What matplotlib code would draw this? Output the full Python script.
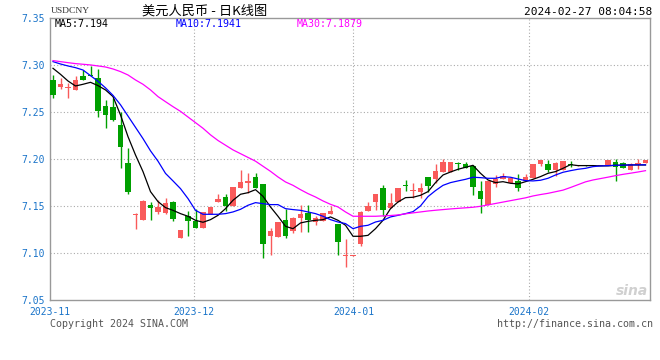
import numpy as np
import matplotlib
matplotlib.use('Agg')
import matplotlib.pyplot as plt

# daily candles USD/CNY, 2023-11 .. 2024-02-27
opens = [7.2844, 7.2766, 7.2759, 7.2741, 7.2887, 7.2894, 7.2865, 7.2567, 7.2560, 7.2365,
         7.1965, 7.1408, 7.1358, 7.1514, 7.1436, 7.1425, 7.1543, 7.1163, 7.1394, 7.1344,
         7.1270, 7.1415, 7.1547, 7.1596, 7.1507, 7.1691, 7.1752, 7.1809, 7.1734, 7.1181,
         7.1174, 7.1351, 7.1234, 7.1372, 7.1426, 7.1337, 7.1348, 7.1418, 7.1312, 7.0975,
         7.0975, 7.1096, 7.1447, 7.1550, 7.1691, 7.1482, 7.1550, 7.1723, 7.1667, 7.1649,
         7.1812, 7.1791, 7.1869, 7.1869, 7.1954, 7.1950, 7.1929, 7.1667, 7.1511, 7.1738,
         7.1794, 7.1745, 7.1766, 7.1766, 7.1805, 7.1950, 7.1950, 7.1883, 7.1890, 7.1950,
         7.1934, 7.1940, 7.1929, 7.1928, 7.1936, 7.1968, 7.1957, 7.1887, 7.1940, 7.1965]
highs = [7.2897, 7.2862, 7.2812, 7.2887, 7.2950, 7.2993, 7.2961, 7.2631, 7.2649, 7.2500,
         7.2121, 7.1429, 7.1567, 7.1550, 7.1571, 7.1589, 7.1557, 7.1252, 7.1450, 7.1468,
         7.1440, 7.1493, 7.1631, 7.1631, 7.1702, 7.1883, 7.1855, 7.1858, 7.1734, 7.1270,
         7.1333, 7.1475, 7.1385, 7.1511, 7.1511, 7.1401, 7.1426, 7.1500, 7.1312, 7.1149,
         7.0980, 7.1450, 7.1543, 7.1631, 7.1723, 7.1638, 7.1691, 7.1777, 7.1752, 7.1752,
         7.1812, 7.1950, 7.2000, 7.1972, 7.1975, 7.1972, 7.1936, 7.1766, 7.1766, 7.1833,
         7.1851, 7.1801, 7.1844, 7.1840, 7.1950, 7.1993, 7.1993, 7.1968, 7.1979, 7.1979,
         7.1938, 7.1942, 7.1931, 7.1930, 7.1993, 7.2004, 7.1975, 7.1957, 7.2004, 7.1993]
lows = [7.2656, 7.2752, 7.2656, 7.2741, 7.2848, 7.2890, 7.2454, 7.2337, 7.2411, 7.1911,
        7.1635, 7.1262, 7.1358, 7.1358, 7.1415, 7.1415, 7.1340, 7.1163, 7.1181, 7.1270,
        7.1270, 7.1415, 7.1547, 7.1450, 7.1507, 7.1691, 7.1645, 7.1695, 7.0950, 7.0979,
        7.1174, 7.1163, 7.1220, 7.1230, 7.1227, 7.1305, 7.1348, 7.1418, 7.0986, 7.0850,
        7.0970, 7.1075, 7.1447, 7.1461, 7.1397, 7.1482, 7.1550, 7.1667, 7.1585, 7.1585,
        7.1656, 7.1745, 7.1869, 7.1869, 7.1887, 7.1911, 7.1621, 7.1433, 7.1511, 7.1709,
        7.1794, 7.1745, 7.1667, 7.1766, 7.1805, 7.1933, 7.1869, 7.1826, 7.1890, 7.1915,
        7.1934, 7.1933, 7.1927, 7.1926, 7.1936, 7.1770, 7.1911, 7.1887, 7.1901, 7.1957]
closes = [7.2688, 7.2801, 7.2760, 7.2844, 7.2848, 7.2890, 7.2518, 7.2475, 7.2422, 7.2135,
          7.1656, 7.1410, 7.1560, 7.1486, 7.1496, 7.1539, 7.1362, 7.1252, 7.1344, 7.1270,
          7.1440, 7.1493, 7.1575, 7.1500, 7.1702, 7.1755, 7.1770, 7.1695, 7.1099, 7.1234,
          7.1333, 7.1188, 7.1379, 7.1418, 7.1351, 7.1376, 7.1426, 7.1450, 7.1121, 7.0976,
          7.0975, 7.1436, 7.1500, 7.1631, 7.1457, 7.1532, 7.1691, 7.1716, 7.1669, 7.1691,
          7.1720, 7.1876, 7.1972, 7.1972, 7.1947, 7.1911, 7.1709, 7.1582, 7.1766, 7.1787,
          7.1823, 7.1801, 7.1699, 7.1812, 7.1950, 7.1993, 7.1890, 7.1961, 7.1979, 7.1936,
          7.1937, 7.1933, 7.1930, 7.1929, 7.1993, 7.1918, 7.1911, 7.1950, 7.1961, 7.1993]

ma5 = [7.2968, 7.2904, 7.2833, 7.2780, 7.2798, 7.2819, 7.2784, 7.2738, 7.2667, 7.2472,
       7.2241, 7.2046, 7.1869, 7.1656, 7.1550, 7.1486, 7.1457, 7.1422, 7.1394, 7.1351,
       7.1330, 7.1358, 7.1404, 7.1475, 7.1564, 7.1628, 7.1645, 7.1677, 7.1606, 7.1493,
       7.1394, 7.1287, 7.1262, 7.1323, 7.1340, 7.1351, 7.1358, 7.1387, 7.1351, 7.1298,
       7.1181, 7.1181, 7.1191, 7.1262, 7.1351, 7.1475, 7.1546, 7.1592, 7.1596, 7.1617,
       7.1656, 7.1752, 7.1833, 7.1865, 7.1894, 7.1915, 7.1936, 7.1851, 7.1780, 7.1752,
       7.1762, 7.1745, 7.1738, 7.1762, 7.1787, 7.1816, 7.1851, 7.1869, 7.1904, 7.1943,
       7.1933, 7.1933, 7.1933, 7.1930, 7.1930, 7.1936, 7.1938, 7.1940, 7.1940, 7.1940]
ma10 = [7.3039, 7.3014, 7.2993, 7.2975, 7.2950, 7.2890, 7.2830, 7.2760, 7.2680, 7.2580,
        7.2460, 7.2340, 7.2220, 7.2090, 7.1980, 7.1850, 7.1770, 7.1688, 7.1582, 7.1457,
        7.1415, 7.1415, 7.1415, 7.1422, 7.1440, 7.1468, 7.1511, 7.1539, 7.1528, 7.1518,
        7.1518, 7.1475, 7.1465, 7.1457, 7.1440, 7.1422, 7.1394, 7.1358, 7.1333, 7.1316,
        7.1262, 7.1287, 7.1298, 7.1333, 7.1351, 7.1387, 7.1404, 7.1422, 7.1443, 7.1504,
        7.1603, 7.1667, 7.1723, 7.1752, 7.1770, 7.1787, 7.1809, 7.1805, 7.1798, 7.1798,
        7.1816, 7.1809, 7.1791, 7.1773, 7.1770, 7.1777, 7.1798, 7.1833, 7.1862, 7.1879,
        7.1894, 7.1904, 7.1922, 7.1929, 7.1933, 7.1936, 7.1938, 7.1940, 7.1941, 7.1941]
ma30 = [7.3050, 7.3039, 7.3028, 7.3018, 7.3011, 7.3004, 7.2993, 7.2982, 7.2961, 7.2933,
        7.2897, 7.2844, 7.2798, 7.2738, 7.2667, 7.2613, 7.2560, 7.2510, 7.2450, 7.2390,
        7.2330, 7.2260, 7.2200, 7.2150, 7.2100, 7.2060, 7.2020, 7.1980, 7.1926, 7.1872,
        7.1812, 7.1759, 7.1723, 7.1677, 7.1635, 7.1599, 7.1557, 7.1521, 7.1493, 7.1440,
        7.1394, 7.1394, 7.1394, 7.1394, 7.1398, 7.1402, 7.1408, 7.1420, 7.1430, 7.1440,
        7.1450, 7.1458, 7.1465, 7.1472, 7.1478, 7.1484, 7.1490, 7.1500, 7.1515, 7.1530,
        7.1545, 7.1560, 7.1575, 7.1590, 7.1610, 7.1625, 7.1638, 7.1655, 7.1672, 7.1700,
        7.1730, 7.1760, 7.1780, 7.1795, 7.1810, 7.1826, 7.1840, 7.1852, 7.1865, 7.1879]

month_labels = ['2023-11', '2023-12', '2024-01', '2024-02']
month_pos = [-0.4, 18.85, 40.05, 63.4]
price_ticks = [7.05, 7.10, 7.15, 7.20, 7.25, 7.30, 7.35]

UP = '#f95a5a'
DOWN = '#00a000'
BLUE_TXT = '#1a74c9'
MONO = 'DejaVu Sans Mono'

fig = plt.figure(figsize=(6.6, 3.6), dpi=100)
W, H = 660, 360
top_px, bot_px = 18.3, 300.3
ax = fig.add_axes([50 / W, 1 - bot_px / H, 600 / W, (bot_px - top_px) / H])

o = np.array(opens); c = np.array(closes)
hi = np.array(highs); lo = np.array(lows)
x = np.arange(len(o))
colors = [UP if cc >= oo else DOWN for oo, cc in zip(o, c)]

# wicks then bodies
ax.vlines(x, lo, hi, colors=colors, linewidth=1.0, zorder=3)
body_h = np.maximum(np.abs(c - o), 0.0009)
ax.bar(x, body_h, bottom=np.minimum(o, c), width=0.72, color=colors,
       linewidth=0, zorder=4)

# moving averages
ax.plot(x, ma5, color='black', linewidth=0.9, zorder=5)
ax.plot(x, ma10, color='#0000ff', linewidth=0.9, zorder=6)
ax.plot(x, ma30, color='#ff00ff', linewidth=0.9, zorder=7)

ax.set_xlim(-0.4, 79.6)
ax.set_ylim(7.05, 7.35)

# grid
for p in price_ticks[1:-1]:
    ax.axhline(p, color='#aaaaaa', linewidth=0.8, linestyle=(0, (1, 2)), zorder=1)
for mp in month_pos[1:]:
    ax.axvline(mp, color='#aaaaaa', linewidth=0.8, linestyle=(0, (1, 2)), zorder=1)

ax.set_yticks(price_ticks)
ax.set_yticklabels([f'{p:.2f}' for p in price_ticks], fontsize=7, family=MONO, color=BLUE_TXT)
ax.set_xticks(month_pos)
ax.set_xticklabels(month_labels, fontsize=7, family=MONO, color=BLUE_TXT)
ax.tick_params(length=0, pad=4)
ax.tick_params(axis='x', pad=5)
for s in ax.spines.values():
    s.set_color('#999999')
    s.set_linewidth(1)


def px(xp, yp):
    return xp / W, 1 - yp / H


# MA legend row
fig.text(*px(55, 24), 'MA5:7.194', fontsize=7.2, family=MONO, color='black', va='center')
fig.text(*px(176, 24), 'MA10:7.1941', fontsize=7.2, family=MONO, color='#0000ff', va='center')
fig.text(*px(297, 24), 'MA30:7.1879', fontsize=7.2, family=MONO, color='#ff00ff', va='center')

# header
fig.text(*px(51, 11), 'USDCNY', fontsize=6.8, family='Liberation Serif', color='#333333', va='center')
fig.text(*px(142, 11), '美元人民币 - 日K线图', fontsize=9.5,
         family=['Noto Sans CJK SC', 'DejaVu Sans'], color='black', va='center')
fig.text(*px(652, 12), '2024-02-27 08:04:58', fontsize=8, family=MONO, color='black',
         va='center', ha='right')

# footer
fig.text(*px(50, 324), 'Copyright 2024 SINA.COM', fontsize=7.2, family=MONO, color='#555555', va='center')
fig.text(*px(653, 324), 'http://finance.sina.com.cn', fontsize=7.2, family=MONO, color='#555555',
         va='center', ha='right')
fig.text(*px(648, 291), 'sina', fontsize=10, style='italic', weight='bold', color='#d0d0d0',
         va='center', ha='right')

fig.savefig('out.png', dpi=100)
